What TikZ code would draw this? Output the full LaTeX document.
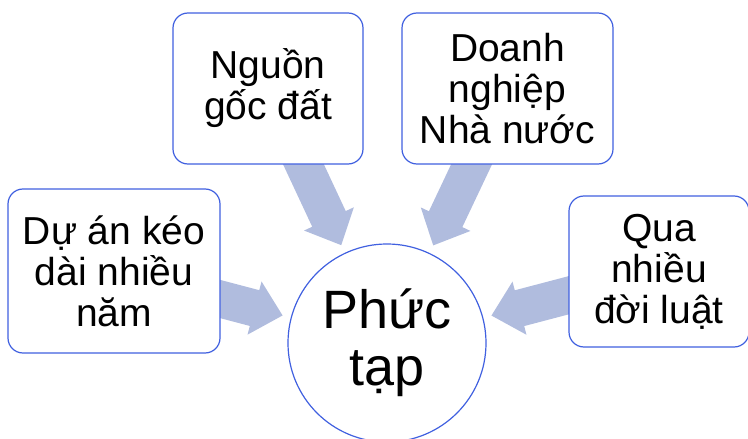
\documentclass[tikz,border=0pt]{standalone}
\usepackage{fontspec}
\setmainfont{Liberation Sans}
\usetikzlibrary{calc,backgrounds}
\definecolor{edgeblue}{RGB}{64,96,224}
\definecolor{arrowfill}{RGB}{176,188,222}
\begin{document}
\begin{tikzpicture}[x=1pt,y=-1pt,
  box/.style={draw=edgeblue, line width=1.2pt, fill=white, rounded corners=15pt,
    align=center, inner sep=0pt, font=\fontsize{39}{41}\selectfont},
  hub/.style={circle, draw=edgeblue, line width=1.2pt, fill=white,
    minimum size=198pt, inner sep=0pt, align=center,
    font=\fontsize{54}{57}\selectfont},
  flow/.style={fill=arrowfill, draw=none}]
\useasboundingbox (0,0) rectangle (748,439);

% centre circle
\node[hub] (hub) at (387,343) {Phức\\tạp};

% surrounding boxes
\node[box, minimum width=212pt, minimum height=164pt] (b1) at (114,271)
  {Dự án kéo\\dài nhiều\\năm};
\node[box, minimum width=190pt, minimum height=151pt] (b2) at (268,88.5)
  {Nguồn\\gốc đất};
\node[box, minimum width=211pt, minimum height=151pt] (b3) at (507.5,88.5)
  {Doanh\\nghiệp\\Nhà nước};
\node[box, minimum width=180pt, minimum height=151pt] (b4) at (659,271.5)
  {Qua\\nhiều\\đời luật};

% block arrows from each box towards the circle
\begin{scope}[on background layer]
\foreach \b in {b1,b2,b3,b4}{
  \coordinate (tip-\b) at ($(hub)!108pt!(\b.center)$);
  \coordinate (base-\b) at ($(hub)!137pt!(\b.center)$);
  \fill[flow] ($(\b.center)!18.5pt!90:(tip-\b)$)
    -- ($(base-\b)!18.5pt!90:(tip-\b)$)
    -- ($(base-\b)!27.5pt!90:(tip-\b)$)
    -- (tip-\b)
    -- ($(base-\b)!27.5pt!-90:(tip-\b)$)
    -- ($(base-\b)!18.5pt!-90:(tip-\b)$)
    -- ($(\b.center)!18.5pt!-90:(tip-\b)$)
    -- cycle;
}
\end{scope}
\end{tikzpicture}
\end{document}
